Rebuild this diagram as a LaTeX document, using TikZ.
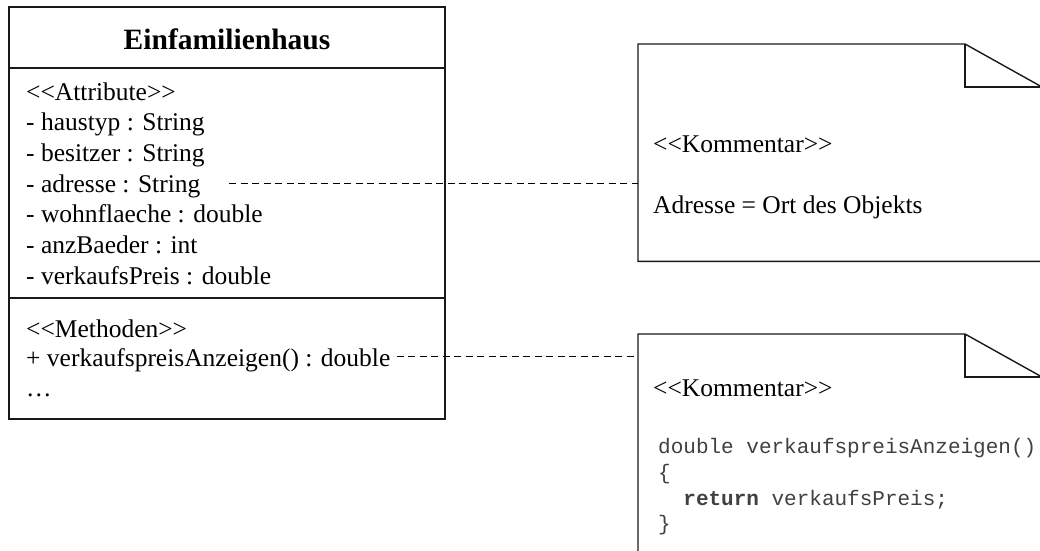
\documentclass[tikz,border=0pt]{standalone}
\usepackage{fontspec}
\setmainfont{Liberation Serif}
\setmonofont{Liberation Mono}
\newcommand{\stereo}[1]{{<}{<}#1{>}{>}}
\begin{document}
\begin{tikzpicture}[x=1pt,y=-1pt,
  frame/.style={draw=black!90, line width=1.4pt},
  txt/.style={anchor=base west, inner sep=0pt, font=\fontsize{25.5}{30}\selectfont},
  headtxt/.style={anchor=base, inner sep=0pt, font=\fontsize{29.5}{34}\selectfont\bfseries},
  codetxt/.style={anchor=base west, inner sep=0pt, text=black!75, font=\fontsize{21}{25}\ttfamily},
  notebox/.style={anchor=north west, inner sep=0pt, minimum width=404pt},
  link/.style={draw=black, line width=1pt, dash pattern=on 7pt off 4.5pt}]
\useasboundingbox (0,0) rectangle (1040,550);
\clip (0,0) rectangle (1040,550);

% class box with its three compartments
\draw[frame] (9,7) rectangle (445,419);
\draw[frame] (9,68) -- (445,68);
\draw[frame] (9,298) -- (445,298);

\node[headtxt] (title) at (227,49) {Einfamilienhaus};

\node[txt] (attr0) at (26,100) {\stereo{Attribute}};
\node[txt] (attr1) at (26,130.7) {- haustyp : String};
\node[txt] (attr2) at (26,161.3) {- besitzer : String};
\node[txt] (attr3) at (26,192) {- adresse : String};
\node[txt] (attr4) at (26,222.7) {- wohnflaeche : double};
\node[txt] (attr5) at (26,253.3) {- anzBaeder : int};
\node[txt] (attr6) at (26,284) {- verkaufsPreis : double};

\node[txt] (meth0) at (26,337) {\stereo{Methoden}};
\node[txt] (meth1) at (26,366) {+ verkaufspreisAnzeigen() : double};
\node[txt] (meth2) at (26,396) {\dots};

% comment notes (dog-eared), running past the right and lower edge
\node[notebox, minimum height=217pt] (note1) at (638,44) {};
\node[notebox, minimum height=260pt] (note2) at (638,334) {};

\foreach \n in {note1,note2}{
  \draw[frame] (\n.north west) -- ([xshift=327pt]\n.north west)
    -- ([xshift=404pt,yshift=-43pt]\n.north west)
    -- (\n.south east) -- (\n.south west) -- cycle;
  \draw[frame] ([xshift=327pt]\n.north west) -- ++(0,43) -- ++(77,0);
}

\node[txt] (k1) at (653,152) {\stereo{Kommentar}};
\node[txt] (k1b) at (653,213) {Adresse = Ort des Objekts};

\node[txt] (k2) at (653,396) {\stereo{Kommentar}};
\node[codetxt] (c1) at (658,453) {double verkaufspreisAnzeigen()};
\node[codetxt] (c2) at (658,479) {\{};
\node[codetxt] (c3) at (658,505) {\ \ \textbf{return} verkaufsPreis;};
\node[codetxt] (c4) at (658,530) {\}};

% dashed anchors from the members to their notes
\coordinate (a1) at (229,183);
\coordinate (a2) at ([xshift=6pt,yshift=10pt]meth1.base east);
\draw[link] (a1) -- (a1 -| note1.west);
\draw[link] (a2) -- (a2 -| note2.west);
\end{tikzpicture}
\end{document}
